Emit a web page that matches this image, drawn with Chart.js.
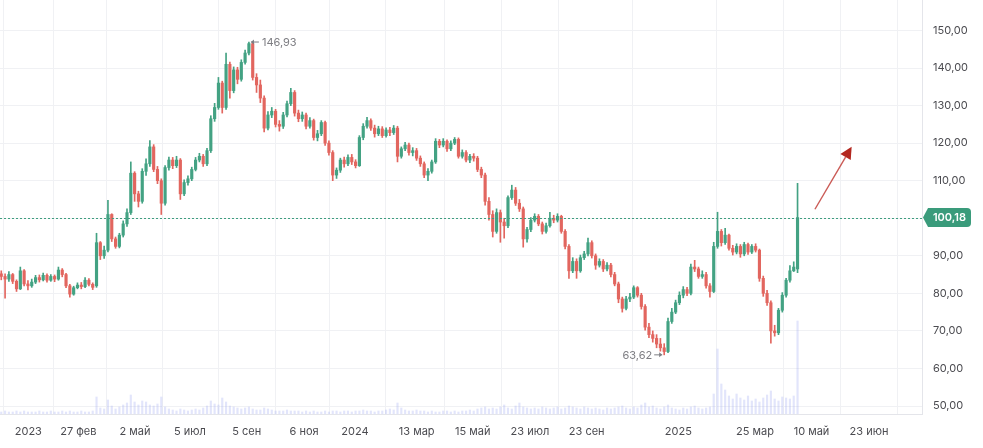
<!DOCTYPE html>
<html>
<head>
<meta charset="utf-8">
<script src="https://cdn.jsdelivr.net/npm/chart.js@4.4.1/dist/chart.umd.min.js"></script>
<style>
html,body{margin:0;padding:0;background:#fff;overflow:hidden}
canvas{display:block}
</style>
</head>
<body>
<canvas id="c" width="983" height="448"></canvas>
<script>
// ---- data (one candle per 3 trading days) ----
const openP = [
85.2,84.5,83.8,85.0,83.2,81.2,86.0,82.5,82.0,83.0,
84.2,83.6,84.8,83.5,84.5,83.8,86.2,85.0,82.0,79.8,
81.5,82.2,81.8,83.5,82.4,82.0,93.5,90.0,91.5,101.0,
94.5,92.5,95.5,98.5,101.5,112.0,106.5,104.5,112.5,114.5,
119.0,113.0,110.0,104.0,113.5,115.5,114.0,115.5,106.5,109.5,
110.5,113.0,115.5,116.5,114.5,118.0,126.5,129.5,136.0,129.5,
141.0,134.0,139.5,137.0,141.5,144.0,146.5,137.5,135.5,132.0,
124.0,127.5,128.5,125.0,124.5,127.5,130.5,133.5,128.0,126.5,
127.5,124.5,126.0,121.5,122.5,125.5,120.0,117.5,111.5,112.8,
115.5,114.5,116.2,115.0,114.0,121.5,124.5,126.0,124.0,122.5,
123.8,122.0,123.5,122.8,124.0,116.5,118.5,119.5,117.5,118.0,
116.0,114.5,111.5,112.5,115.0,120.5,119.5,120.5,118.5,120.0,
121.0,116.5,117.5,115.5,116.5,116.0,113.0,111.5,104.5,101.0,
96.5,101.5,99.0,98.0,105.5,107.5,104.0,102.5,94.5,97.0,
99.5,100.5,98.5,96.5,98.0,100.0,99.5,100.5,96.5,92.5,
86.0,88.5,86.0,89.5,90.5,93.5,90.0,87.5,88.5,86.5,
87.5,85.0,82.5,78.5,76.0,78.5,79.0,81.5,79.5,76.5,
71.0,69.0,68.0,66.5,65.5,64.5,72.5,75.0,77.5,79.5,
81.0,80.0,87.0,86.5,84.5,85.0,82.0,80.5,92.5,96.5,
93.5,95.5,92.0,91.0,92.5,90.5,93.0,91.0,92.5,91.5,
84.0,80.0,77.5,70.0,69.5,75.5,79.5,83.5,86.0,86.5
];
const highP = [
86.0,85.2,85.8,85.3,83.6,87.0,86.3,83.4,83.8,84.8,
84.9,85.4,85.2,85.0,84.9,87.0,86.6,85.3,82.4,81.9,
82.8,82.9,84.2,83.9,82.8,96.0,93.8,92.6,104.8,101.2,
95.0,96.0,99.3,102.5,115.0,112.4,107.2,113.2,115.8,120.7,
119.6,113.8,110.5,114.0,116.3,116.2,116.5,115.9,110.2,111.3,
113.6,116.2,117.3,117.0,118.6,127.3,130.6,137.5,136.5,144.0,
141.6,140.3,140.2,142.2,144.8,146.93,146.8,138.5,136.8,132.6,
128.4,129.5,129.0,126.0,128.2,131.2,134.6,134.0,128.8,128.3,
128.0,126.8,126.4,123.4,126.0,125.9,120.6,118.0,113.4,116.0,
116.3,116.9,117.0,115.6,122.0,125.2,126.9,126.5,124.8,124.5,
124.4,124.1,124.2,124.7,124.5,119.0,120.2,120.0,118.8,118.6,
116.6,115.0,113.2,115.5,121.2,121.0,121.2,120.9,120.6,121.5,
121.4,118.2,118.0,117.0,117.2,116.5,113.6,112.0,105.5,102.0,
102.5,102.2,100.0,106.0,108.8,108.2,105.0,103.0,97.6,100.2,
101.2,101.0,99.0,98.7,101.6,100.8,101.2,100.8,97.0,93.0,
89.5,89.2,90.2,91.2,94.7,94.0,90.5,89.2,89.0,88.2,
88.0,85.6,83.0,79.0,79.2,80.0,82.0,81.8,80.0,77.0,
72.0,70.0,69.0,68.0,66.6,73.4,76.0,78.2,80.4,81.8,
81.6,87.8,88.8,87.0,86.0,85.6,82.6,93.6,101.6,97.0,
97.3,95.8,92.8,93.2,93.0,93.6,93.4,93.0,93.2,91.8,
84.6,80.8,78.0,71.5,76.0,80.2,84.0,87.4,88.4,109.3
];
const lowP = [
83.6,78.7,83.2,82.6,80.5,81.0,82.0,80.9,81.6,82.6,
83.0,83.3,83.0,83.2,83.1,83.5,84.4,81.5,79.0,79.5,
81.2,81.2,81.5,82.0,81.0,81.6,89.0,89.3,91.0,93.8,
92.0,92.1,95.0,97.8,101.0,104.5,103.0,104.0,111.4,113.8,
112.4,109.2,101.0,103.5,112.8,113.2,113.5,105.0,106.0,108.8,
110.0,112.6,115.0,113.8,114.0,117.5,125.8,129.0,128.0,129.0,
132.0,133.4,135.8,136.5,141.0,143.5,136.8,133.5,130.8,123.0,
123.5,126.8,124.3,123.2,123.9,127.0,130.0,127.2,125.7,125.8,
123.8,124.0,120.8,120.6,122.0,119.4,116.8,110.0,110.6,112.2,
113.6,114.0,114.3,113.4,113.8,120.9,124.0,123.4,121.6,122.0,
121.5,121.6,122.0,122.3,115.0,116.0,118.0,116.8,116.6,115.4,
113.8,110.8,110.0,112.0,114.6,118.8,119.0,117.8,118.0,119.6,
116.0,116.0,115.0,114.8,115.2,112.4,110.8,103.5,99.5,95.0,
96.0,93.6,94.7,97.5,105.0,103.4,101.8,92.3,93.6,96.4,
99.0,98.0,95.8,96.0,97.6,98.8,99.0,96.0,91.8,84.0,
85.5,84.0,85.6,89.0,90.0,89.4,86.4,87.0,85.8,86.0,
84.4,82.0,77.5,75.0,75.6,77.8,78.6,79.0,75.8,70.2,
68.2,67.0,65.5,64.6,63.62,64.2,72.0,74.6,77.0,78.8,
79.4,79.6,85.8,84.0,84.0,81.4,79.0,80.2,92.0,92.6,
93.0,91.5,90.2,90.5,89.6,90.0,90.4,90.6,91.0,83.2,
79.2,76.8,66.7,68.6,69.0,75.0,79.0,83.0,85.8,85.5
];
const closeP = [
84.5,83.8,85.0,83.2,81.2,86.0,82.5,82.0,83.0,84.2,
83.6,84.8,83.5,84.5,83.8,86.2,85.0,82.0,79.8,81.5,
82.2,81.8,83.5,82.4,81.6,93.5,90.0,91.5,101.0,94.5,
92.5,95.5,98.5,101.5,112.0,106.5,104.5,112.5,114.5,119.0,
113.0,110.0,104.0,113.5,115.5,114.0,115.5,106.5,109.5,110.5,
113.0,115.5,116.5,114.5,118.0,126.5,129.5,136.0,129.5,141.0,
134.0,139.5,137.0,141.5,144.0,146.5,137.5,135.5,132.0,124.0,
127.5,128.5,125.0,124.5,127.5,130.5,133.5,128.0,126.5,127.5,
124.5,126.0,121.5,122.5,125.5,120.0,117.5,111.5,112.8,115.5,
114.5,116.2,115.0,114.0,121.5,124.5,126.0,124.0,122.5,123.8,
122.0,123.5,122.8,124.0,116.5,118.5,119.5,117.5,118.0,116.0,
114.5,111.5,112.5,115.0,120.5,119.5,120.5,118.5,120.0,121.0,
116.5,117.5,115.5,116.5,116.0,113.0,111.5,104.5,101.0,96.5,
101.5,99.0,98.0,105.5,107.5,104.0,102.5,94.5,97.0,99.5,
100.5,98.5,96.5,98.0,100.0,99.5,100.5,96.5,92.5,86.0,
88.5,86.0,89.5,90.5,93.5,90.0,87.5,88.5,86.5,87.5,
85.0,82.5,78.5,76.0,78.5,79.0,81.5,79.5,76.5,71.0,
69.0,68.0,66.5,65.5,64.5,72.5,75.0,77.5,79.5,81.0,
80.0,87.0,86.5,84.5,85.0,82.0,80.5,92.5,96.5,93.5,
95.5,92.0,91.0,92.5,90.5,93.0,91.0,92.5,91.5,84.0,
80.0,77.5,70.0,69.5,75.5,79.5,83.5,86.0,87.0,100.18
];
const volume = [
2,3,2,2,3,2,3,2,2,2,
3,2,2,3,2,2,3,2,3,2,
2,3,2,2,3,17,6,5,14,8,
5,7,9,11,19,12,9,13,12,9,
8,10,17,7,5,4,3,5,4,3,
4,5,4,6,8,13,10,9,16,12,
8,7,6,5,6,7,5,4,4,6,
5,4,3,3,3,4,3,3,3,2,
3,2,3,2,2,3,2,3,3,2,
3,3,2,3,3,4,3,3,2,3,
3,4,5,4,11,6,4,3,3,4,
3,3,2,3,2,2,3,3,2,3,
2,3,3,4,3,5,6,7,5,6,
5,7,9,6,5,8,11,7,6,5,
6,5,7,6,5,6,7,5,6,8,
7,6,5,7,6,5,6,5,4,6,
5,6,7,8,6,5,7,6,9,11,
7,8,6,5,7,9,6,5,4,6,
5,7,8,6,5,6,7,20,65,30,
24,18,15,20,16,14,18,13,15,12,
16,19,23,15,13,17,16,15,18,93
];
const xTickLabels = ['2023','27 фев','2 май','5 июл','5 сен','6 ноя','2024','13 мар','15 май','23 июл','23 сен','2025','25 мар','10 май','23 июн'];
const xTickDays   = [22.3, 61.7, 106.3, 149.6, 194.3, 239.4, 279.5, 328.1, 372.2, 417.3, 462.0, 534.1, 594.5, 639.0, 684.3];
const yTickValues = [50,60,70,80,90,100,110,120,130,140,150];
const lastPrice = 100.18;
const maxMark = {candle: 65, label: '146,93'};
const minMark = {candle: 174, label: '63,62'};
const arrowNote = {from: {day: 641.7, price: 102.4}, to: {day: 670.6, price: 119.05}};
const FIRST_DAY = 1, DAYS_PER_CANDLE = 3;

// ---- build ----
const BULL = '#43a283', BEAR = '#e2665f';
const dayOf = k => FIRST_DAY + k * DAYS_PER_CANDLE;
const bodyData = closeP.map((c, k) => ({x: dayOf(k), y: [openP[k], c], up: c >= openP[k]}));
const wickData = closeP.map((c, k) => ({x: dayOf(k), y: [lowP[k], highP[k]], up: c >= openP[k]}));
const volData = volume.map((v, k) => ({x: dayOf(k), y: v}));
const colorOf = c => (c.raw && c.raw.up) ? BULL : BEAR;
const fmt = v => v.toFixed(2).replace('.', ',');

const overlay = {
  id: 'overlay',
  afterDatasetsDraw(chart) {
    const {ctx, chartArea: a, scales: {x, y}} = chart;
    ctx.save();
    const py = Math.round(y.getPixelForValue(lastPrice)) + 0.5;
    ctx.strokeStyle = '#3f9e7f'; ctx.lineWidth = 1; ctx.setLineDash([2, 2]);
    ctx.beginPath(); ctx.moveTo(a.left, py); ctx.lineTo(a.right, py); ctx.stroke();
    ctx.setLineDash([]);
    ctx.font = '11px Inter, "Open Sans", sans-serif';
    ctx.fillStyle = '#7d7d82'; ctx.strokeStyle = '#7d7d82'; ctx.lineWidth = 1;
    ctx.textBaseline = 'middle';
    const mx = x.getPixelForValue(dayOf(maxMark.candle)), my = y.getPixelForValue(highP[maxMark.candle]);
    ctx.beginPath(); ctx.moveTo(mx + 2, my); ctx.lineTo(mx + 10, my); ctx.stroke();
    ctx.beginPath(); ctx.moveTo(mx + 2, my); ctx.lineTo(mx + 5, my - 2.5); ctx.lineTo(mx + 5, my + 2.5); ctx.closePath(); ctx.fill();
    ctx.textAlign = 'left'; ctx.fillText(maxMark.label, mx + 13, my + 0.5);
    const nx = x.getPixelForValue(dayOf(minMark.candle)), ny = y.getPixelForValue(lowP[minMark.candle]);
    ctx.beginPath(); ctx.moveTo(nx - 2, ny); ctx.lineTo(nx - 10, ny); ctx.stroke();
    ctx.beginPath(); ctx.moveTo(nx - 2, ny); ctx.lineTo(nx - 5, ny - 2.5); ctx.lineTo(nx - 5, ny + 2.5); ctx.closePath(); ctx.fill();
    ctx.textAlign = 'right'; ctx.fillText(minMark.label, nx - 12, ny + 0.5);
    const sx = x.getPixelForValue(arrowNote.from.day), sy = y.getPixelForValue(arrowNote.from.price);
    const tx = x.getPixelForValue(arrowNote.to.day), ty = y.getPixelForValue(arrowNote.to.price);
    const len = Math.hypot(tx - sx, ty - sy), ux = (tx - sx) / len, uy = (ty - sy) / len;
    const bx = tx - 12 * ux, by = ty - 12 * uy;
    ctx.strokeStyle = 'rgba(196,72,66,0.9)'; ctx.lineWidth = 1.4;
    ctx.beginPath(); ctx.moveTo(sx, sy); ctx.lineTo(bx, by); ctx.stroke();
    ctx.fillStyle = '#b3271f';
    ctx.beginPath(); ctx.moveTo(tx, ty); ctx.lineTo(bx - 6 * uy, by + 6 * ux); ctx.lineTo(bx + 6 * uy, by - 6 * ux); ctx.closePath(); ctx.fill();
    ctx.restore();
  },
  afterDraw(chart) {
    const {ctx, chartArea: a, scales: {y}} = chart;
    const py = y.getPixelForValue(lastPrice);
    const l = a.right + 1, h = 9.5, r = 4, right = a.right + 49;
    ctx.save();
    ctx.fillStyle = '#3a9b7b';
    ctx.beginPath();
    ctx.moveTo(l, py);
    ctx.lineTo(l + 5, py - h);
    ctx.lineTo(right - r, py - h);
    ctx.quadraticCurveTo(right, py - h, right, py - h + r);
    ctx.lineTo(right, py + h - r);
    ctx.quadraticCurveTo(right, py + h, right - r, py + h);
    ctx.lineTo(l + 5, py + h);
    ctx.closePath(); ctx.fill();
    ctx.fillStyle = '#fff';
    ctx.font = '600 11px Inter, "Open Sans", sans-serif';
    ctx.textAlign = 'center'; ctx.textBaseline = 'middle';
    ctx.fillText(fmt(lastPrice), (l + 5 + right) / 2, py + 0.5);
    ctx.restore();
  }
};

new Chart(document.getElementById('c'), {
  type: 'bar',
  data: {
    datasets: [
      {data: bodyData, backgroundColor: colorOf, borderWidth: 0, barThickness: 2.5, minBarLength: 1, grouped: false, order: 0, yAxisID: 'y'},
      {data: wickData, backgroundColor: colorOf, borderWidth: 0, barThickness: 1, grouped: false, order: 1, yAxisID: 'y'},
      {data: volData, backgroundColor: 'rgba(150,160,240,0.28)', borderWidth: 0, barThickness: 1.5, grouped: false, order: 2, yAxisID: 'yv'}
    ]
  },
  options: {
    responsive: false,
    animation: false,
    devicePixelRatio: 1,
    layout: {padding: 0},
    plugins: {legend: {display: false}, tooltip: {enabled: false}},
    scales: {
      x: {
        type: 'linear', min: 0, max: 726, offset: false,
        grid: {color: '#f0f1f4', drawTicks: false},
        border: {color: '#e4e5ea'},
        ticks: {autoSkip: false, maxRotation: 0, padding: 11, color: '#4b4b50',
                font: {family: 'Inter', size: 11}, callback: (v, i) => xTickLabels[i]},
        afterBuildTicks: s => { s.ticks = xTickDays.map(v => ({value: v})); },
        afterFit: s => { s.height = 34; s.paddingLeft = 0; s.paddingRight = 0; }
      },
      y: {
        position: 'right', min: 47.87, max: 158.12,
        grid: {color: '#f0f1f4', drawTicks: false},
        border: {color: '#e4e5ea'},
        ticks: {padding: 11, color: '#4b4b50', font: {family: 'Inter', size: 11}, callback: v => fmt(v)},
        afterBuildTicks: s => { s.ticks = yTickValues.map(v => ({value: v})); },
        afterFit: s => { s.width = 61; s.paddingTop = 0; s.paddingBottom = 0; }
      },
      yv: {display: false, min: 0, max: 414, position: 'left'}
    }
  },
  plugins: [overlay]
});
</script>
</body>
</html>
